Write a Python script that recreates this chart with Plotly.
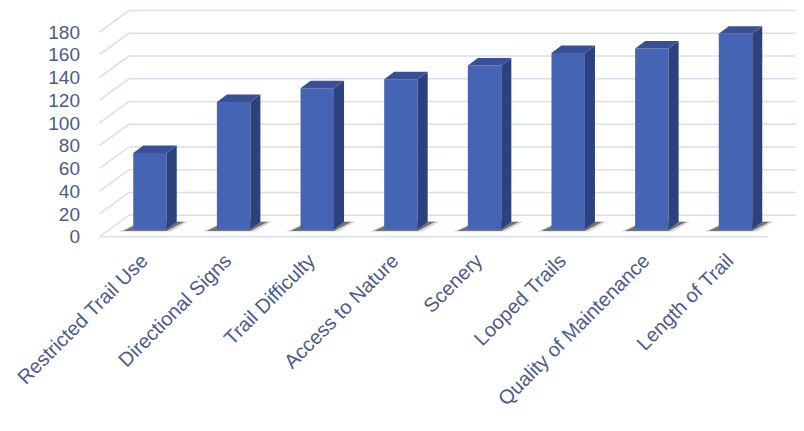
import plotly.graph_objects as go

# ── Datos ─────────────────────────────────────────────────────────────────────
categorias = [
    'Restricted Trail Use', 'Directional Signs', 'Trail Difficulty',
    'Access to Nature', 'Scenery', 'Looped Trails',
    'Quality of Maintenance', 'Length of Trail',
]
valores = [67, 112, 124, 132, 144, 155, 159, 172]
marcas_y = [0, 20, 40, 60, 80, 100, 120, 140, 160, 180]

COLORES = {
    'frente': '#4664B4',
    'lado': '#2E417F',
    'tapa': '#3A5096',
    'sombra_ext': 'rgba(70,70,70,0.22)',
    'sombra_int': 'rgba(35,35,35,0.55)',
    'rejilla': '#D8E0EF',
    'texto': '#4A5B8C',
}

# geometria del efecto 3D (unidades de los ejes)
ANCHO = 0.40                    # ancho de la cara frontal
PROF_X, PROF_Y = 0.12, 6.6      # profundidad de cada barra
BASE = 6.5                      # la cara frontal esta un tercio hacia el fondo
PARED_X, PARED_Y = 0.353, 18.9  # profundidad del piso / pared de fondo
PISO_IZQ, PISO_DER = -0.604, 7.388

x = list(range(len(categorias)))

fig = go.Figure()

# rejilla en la pared del fondo + diagonal de la pared lateral
formas = []
for t in marcas_y:
    formas.append(dict(
        type='path', xref='x', yref='y', layer='below',
        path=(f'M {PISO_IZQ},{t} L {PISO_IZQ + PARED_X},{t + PARED_Y} '
              f'L {PISO_DER + PARED_X},{t + PARED_Y}'),
        line=dict(color=COLORES['rejilla'], width=1.6),
    ))
# borde frontal del piso
formas.append(dict(
    type='line', xref='x', yref='y', layer='below',
    x0=PISO_IZQ, y0=0, x1=PISO_DER, y1=0,
    line=dict(color=COLORES['rejilla'], width=1.6),
))


def sombra(i, m, color):
    izq, der = i - ANCHO / 2, i + ANCHO / 2
    return dict(
        type='path', xref='x', yref='y', layer='below',
        path=(f'M {izq - 0.12 - m},{BASE - 1.5 - m * 8} '
              f'L {der + m},{BASE - 1.5 - m * 8} '
              f'L {der + 0.21 + m},{BASE + PROF_Y + m * 6} '
              f'L {izq + 0.1},{BASE + PROF_Y + m * 6} Z'),
        fillcolor=color, line=dict(width=0),
    )


# sombras en el piso
for i in x:
    formas.append(sombra(i, 0.05, COLORES['sombra_ext']))
    formas.append(sombra(i, 0.0, COLORES['sombra_int']))

# caras frontales
fig.add_trace(go.Bar(
    x=x, y=valores, base=[BASE] * len(valores), width=ANCHO,
    marker=dict(color=COLORES['frente'], line=dict(width=0)),
    hovertemplate='%{customdata}: %{y}<extra></extra>',
    customdata=categorias,
))

# caras laterales y tapas
for i, v in zip(x, valores):
    izq, der = i - ANCHO / 2, i + ANCHO / 2
    arriba = BASE + v
    fig.add_trace(go.Scatter(
        x=[der, der + PROF_X, der + PROF_X, der, der],
        y=[BASE, BASE + PROF_Y, arriba + PROF_Y, arriba, BASE],
        fill='toself', fillcolor=COLORES['lado'], mode='lines',
        line=dict(width=0), hoverinfo='skip', showlegend=False,
    ))
    fig.add_trace(go.Scatter(
        x=[izq, izq + PROF_X, der + PROF_X, der, izq],
        y=[arriba, arriba + PROF_Y, arriba + PROF_Y, arriba, arriba],
        fill='toself', fillcolor=COLORES['tapa'], mode='lines',
        line=dict(width=0), hoverinfo='skip', showlegend=False,
    ))

# la pagina deja 8px de margen en el body: la figura se ajusta a eso
fig.update_layout(
    width=796, height=423,
    shapes=formas,
    showlegend=False,
    plot_bgcolor='white', paper_bgcolor='white',
    font=dict(family='Liberation Sans, Arial, sans-serif', size=19, color=COLORES['texto']),
    margin=dict(l=80, r=0, t=0, b=185),
    xaxis=dict(
        range=[-0.741, 7.819], tickmode='array', tickvals=x, ticktext=categorias,
        tickangle=-45, tickfont=dict(size=20), ticklabelshift=-8, ticklabelstandoff=-2,
        ticklabeloverflow='allow',
        showgrid=False, zeroline=False, showline=False, ticks='', automargin=False,
    ),
    yaxis=dict(
        range=[-8.18, 201.1], tickmode='array', tickvals=marcas_y,
        ticklabelstandoff=7,
        showgrid=False, zeroline=False, showline=False, ticks='', automargin=False,
    ),
)

fig.write_html('out.html')
